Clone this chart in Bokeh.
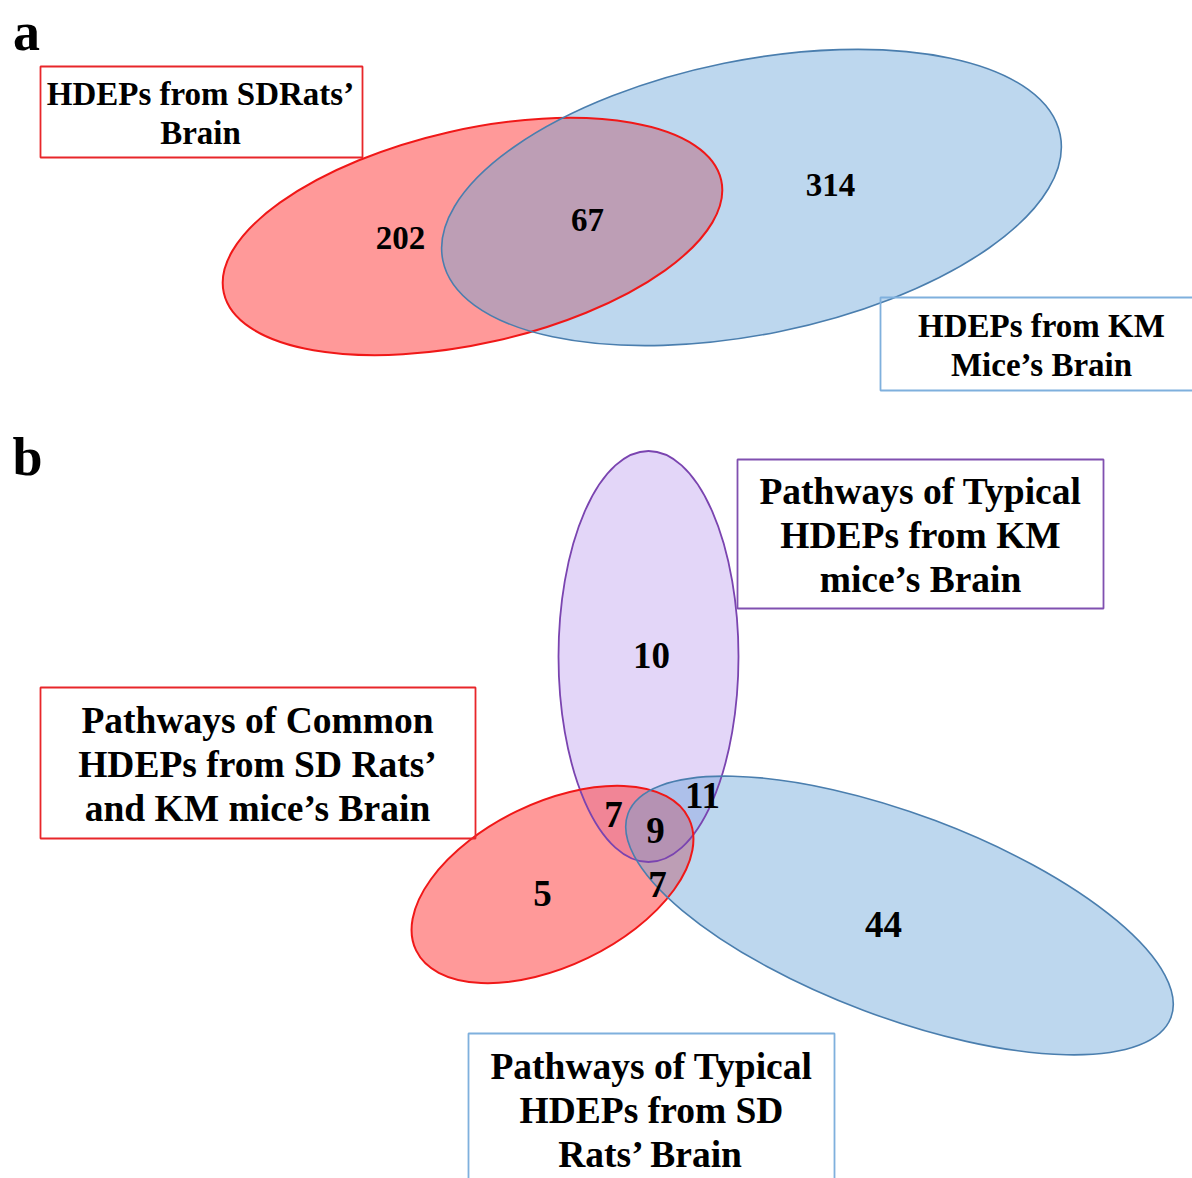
import math
from bokeh.plotting import figure
from bokeh.models import Range1d, ColumnDataSource
from bokeh.core.properties import value
from bokeh.embed import file_html
from bokeh.resources import INLINE

W, H = 1192, 1178
FONT = value("Liberation Serif")

# ---- data -------------------------------------------------------------
# panel a: HDEP counts (SD rats only, shared, KM mice only)
a_regions = ["rats_only", "shared", "mice_only"]
a_counts = [202, 67, 314]
a_set_names = [["HDEPs from SDRats\u2019", "Brain"],
               ["HDEPs from KM", "Mice\u2019s Brain"]]

# panel b: pathway counts per Venn region
b_regions = ["km_only", "common_km", "all_three", "km_sd", "common_only", "common_sd", "sd_only"]
b_counts = [10, 7, 9, 11, 5, 7, 44]
b_set_names = [["Pathways of Typical", "HDEPs from KM", "mice\u2019s Brain"],
               ["Pathways of Common", "HDEPs from SD Rats\u2019", "and KM mice\u2019s Brain"],
               ["Pathways of Typical", "HDEPs from SD", "Rats\u2019 Brain"]]

# ---- layout (page pixels, measured from the top) ----------------------
def Y(y):
    return H - y

# ellipses: cx, cy, full major, full minor, angle (deg, counter-clockwise)
A_RED = (472, 236, 510, 214, 12.8)
A_BLUE = (751, 197, 630, 274, 11.5)
B_PURPLE = (648, 656, 180, 411, 0.0)
B_RED = (552, 884, 303, 163, 25.8)
B_BLUE = (899, 915, 580, 203, -20.6)

a_label_xy = [(400, 237), (587, 219), (830, 184)]
b_label_xy = [(651, 655), (613, 814), (655, 830), (702, 795), (542, 893), (657, 884), (883, 924)]

# boxes: left, right, top, bottom, line color, text center x, first line y, line step
a_boxes = [(40, 362, 66, 157, "#E8262A", 200, 93, 39),
           (880, 1196, 297, 390, "#7FB0DD", 1041, 325, 39)]
b_boxes = [(737, 1103, 459, 608, "#8050B0", 920, 491, 44),
           (40, 475, 687, 838, "#E8262A", 257, 720, 44),
           (468, 834, 1033, 1200, "#7FB0DD", 651, 1066, 44)]

RED_FILL, RED_ALPHA, RED_LINE = "#FF3333", 0.5, "#F01818"
BLUE_FILL, BLUE_ALPHA, BLUE_LINE = "#69A4D8", 0.44, "#4A7EAE"
PURPLE_FILL, PURPLE_LINE = "#E3D6F8", "#7A44B0"

p = figure(width=W, height=H, x_range=Range1d(0, W), y_range=Range1d(0, H),
           x_axis_type=None, y_axis_type=None, toolbar_location=None,
           output_backend="svg", min_border=0)
p.outline_line_color = None
p.background_fill_color = "white"
p.border_fill_color = "white"


def ellipse_fill(e, color, alpha):
    cx, cy, w, h, ang = e
    p.ellipse(x=cx, y=Y(cy), width=w, height=h, angle=math.radians(ang),
              fill_color=color, fill_alpha=alpha, line_color=None)


def ellipse_line(e, color, lw):
    cx, cy, w, h, ang = e
    p.ellipse(x=cx, y=Y(cy), width=w, height=h, angle=math.radians(ang),
              fill_color=None, line_color=color, line_width=lw)


# panel a fills then outlines
ellipse_fill(A_RED, RED_FILL, RED_ALPHA)
ellipse_fill(A_BLUE, BLUE_FILL, BLUE_ALPHA)
ellipse_line(A_RED, RED_LINE, 2)
ellipse_line(A_BLUE, BLUE_LINE, 1.6)

# panel b fills then outlines
ellipse_fill(B_PURPLE, PURPLE_FILL, 1.0)
ellipse_fill(B_RED, RED_FILL, RED_ALPHA)
ellipse_fill(B_BLUE, BLUE_FILL, BLUE_ALPHA)
ellipse_line(B_PURPLE, PURPLE_LINE, 1.8)
ellipse_line(B_RED, RED_LINE, 2)
ellipse_line(B_BLUE, BLUE_LINE, 1.6)


def draw_boxes(boxes, names, size):
    for (l, r, t, b, col, tx, ty, step), lines in zip(boxes, names):
        p.quad(left=l, right=r, top=Y(t), bottom=Y(b), fill_color="white",
               fill_alpha=0.0, line_color=col, line_width=1.8)
        src = ColumnDataSource(dict(x=[tx] * len(lines),
                                    y=[Y(ty + i * step) for i in range(len(lines))],
                                    t=lines))
        p.text(x="x", y="y", text="t", source=src, text_font=FONT,
               text_font_style="bold", text_font_size=size, text_color="#000000",
               text_align="center", text_baseline="middle")


draw_boxes(a_boxes, a_set_names, "33px")
draw_boxes(b_boxes, b_set_names, "37.5px")


def draw_counts(xy, counts, size):
    src = ColumnDataSource(dict(x=[q[0] for q in xy], y=[Y(q[1]) for q in xy],
                                t=[str(c) for c in counts]))
    p.text(x="x", y="y", text="t", source=src, text_font=FONT,
           text_font_style="bold", text_font_size=size, text_color="#000000",
           text_align="center", text_baseline="middle")


draw_counts(a_label_xy, a_counts, "33px")
draw_counts(b_label_xy, b_counts, "37px")

# panel letters
p.text(x=[26, 27], y=[Y(1), Y(426)], text=["a", "b"], text_font=FONT,
       text_font_style="bold", text_font_size="54px", text_color="#000000",
       text_align="center", text_baseline="top")

open("out.html", "w").write(file_html(p, INLINE))
